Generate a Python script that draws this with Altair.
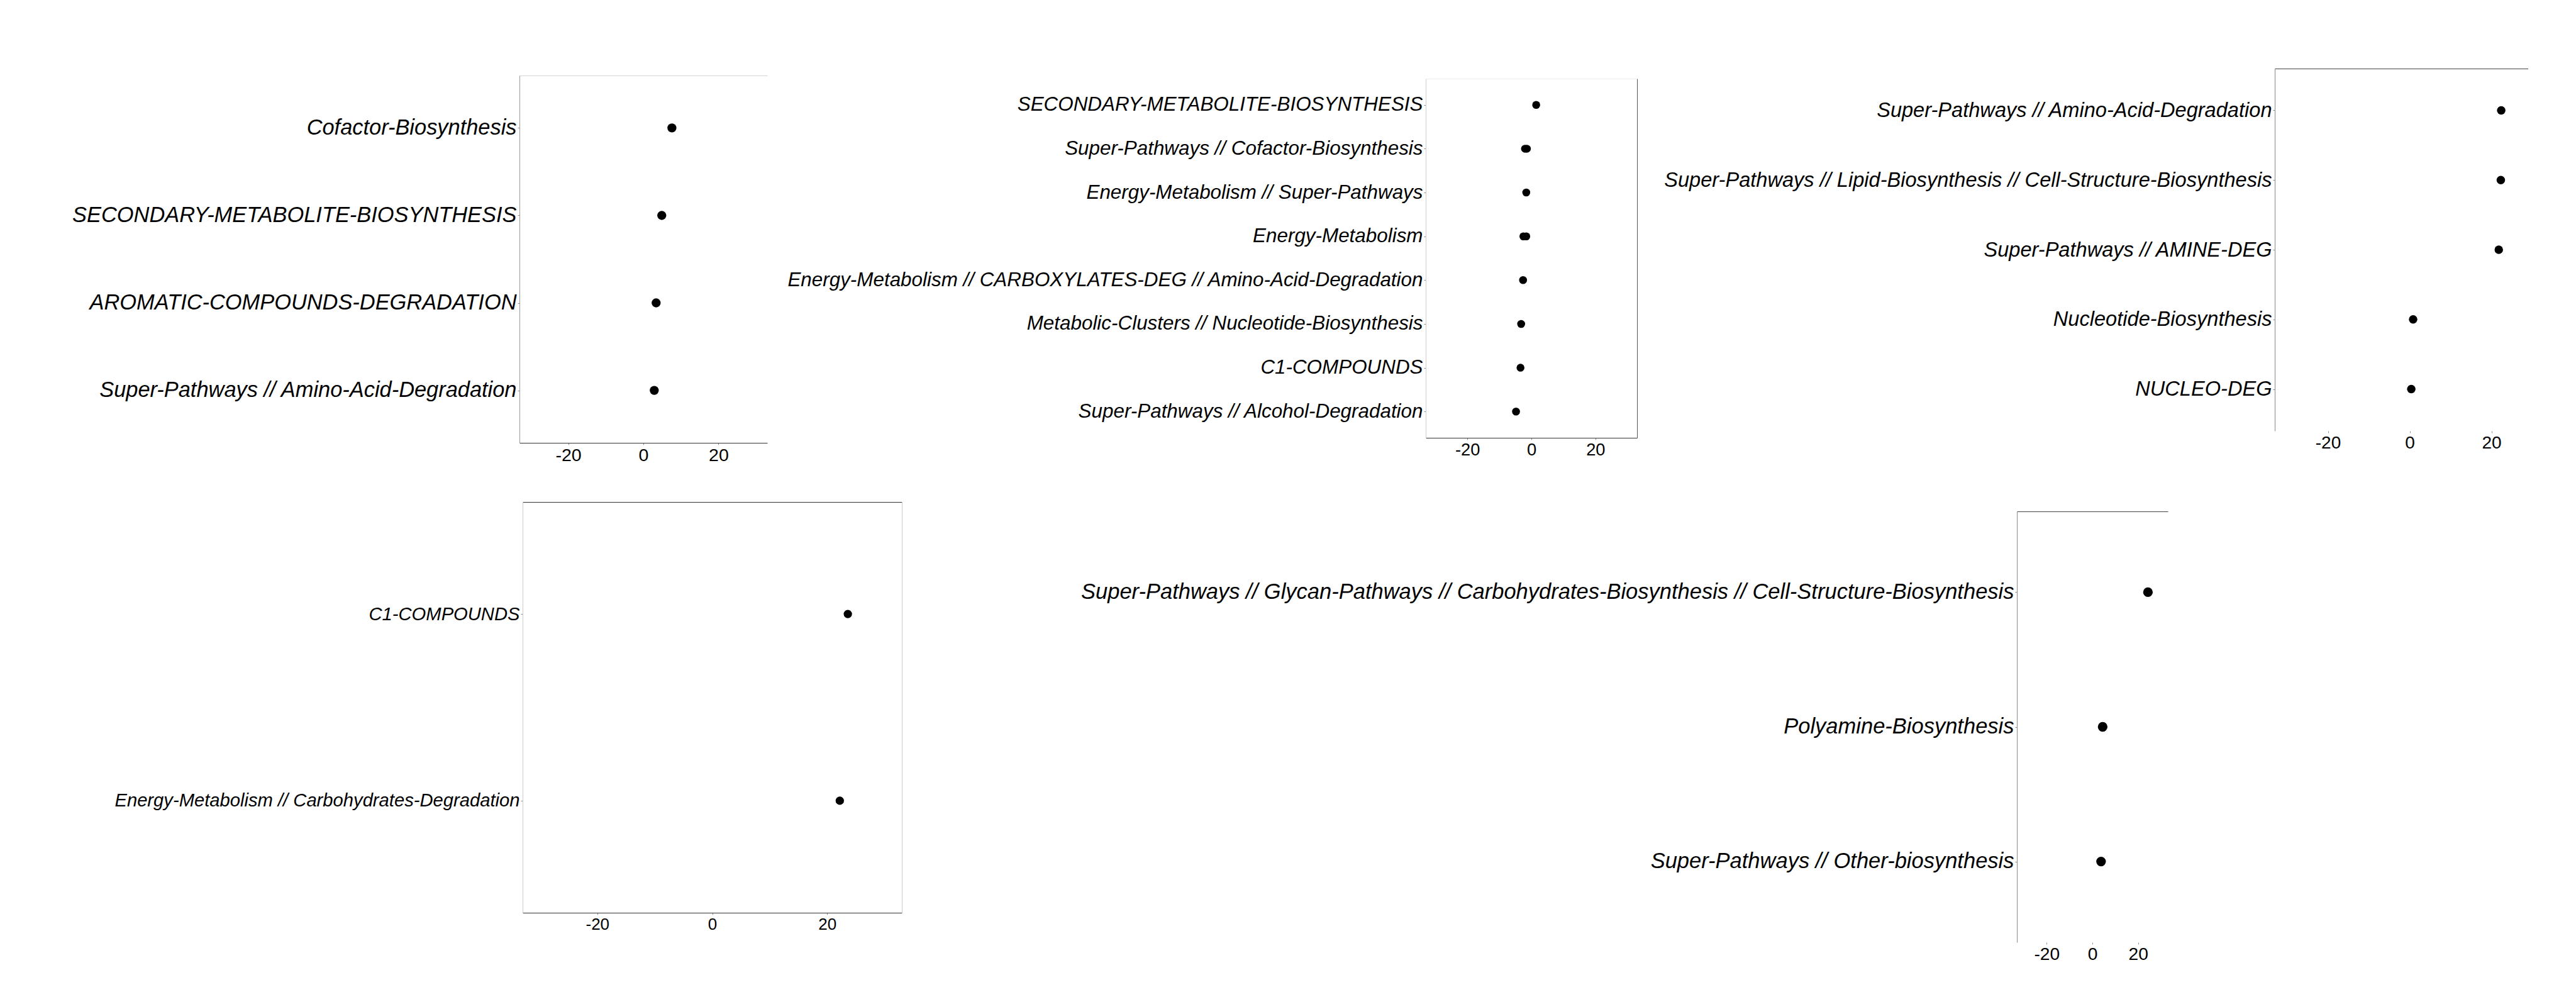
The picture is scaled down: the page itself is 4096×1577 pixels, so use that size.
import altair as alt
import pandas as pd

FONT = "Liberation Sans"

# ---------------- data ----------------
p1_cats = ["Cofactor-Biosynthesis",
           "SECONDARY-METABOLITE-BIOSYNTHESIS",
           "AROMATIC-COMPOUNDS-DEGRADATION",
           "Super-Pathways // Amino-Acid-Degradation"]
p1_vals = [7.6, 4.9, 3.4, 2.9]

p2_order = ["SECONDARY-METABOLITE-BIOSYNTHESIS",
            "Super-Pathways // Cofactor-Biosynthesis",
            "Energy-Metabolism // Super-Pathways",
            "Energy-Metabolism",
            "Energy-Metabolism // CARBOXYLATES-DEG // Amino-Acid-Degradation",
            "Metabolic-Clusters // Nucleotide-Biosynthesis",
            "C1-COMPOUNDS",
            "Super-Pathways // Alcohol-Degradation"]
p2_cats = ["SECONDARY-METABOLITE-BIOSYNTHESIS",
           "Super-Pathways // Cofactor-Biosynthesis",
           "Super-Pathways // Cofactor-Biosynthesis",
           "Energy-Metabolism // Super-Pathways",
           "Energy-Metabolism",
           "Energy-Metabolism",
           "Energy-Metabolism // CARBOXYLATES-DEG // Amino-Acid-Degradation",
           "Metabolic-Clusters // Nucleotide-Biosynthesis",
           "C1-COMPOUNDS",
           "Super-Pathways // Alcohol-Degradation"]
p2_vals = [1.5, -2.0, -1.4, -1.6, -2.5, -1.6, -2.6, -3.2, -3.4, -4.8]

p3_cats = ["Super-Pathways // Amino-Acid-Degradation",
           "Super-Pathways // Lipid-Biosynthesis // Cell-Structure-Biosynthesis",
           "Super-Pathways // AMINE-DEG",
           "Nucleotide-Biosynthesis",
           "NUCLEO-DEG"]
p3_vals = [22.4, 22.3, 21.8, 0.85, 0.4]

p4_cats = ["C1-COMPOUNDS",
           "Energy-Metabolism // Carbohydrates-Degradation"]
p4_vals = [23.6, 22.2]

p5_cats = ["Super-Pathways // Glycan-Pathways // Carbohydrates-Biosynthesis // Cell-Structure-Biosynthesis",
           "Polyamine-Biosynthesis",
           "Super-Pathways // Other-biosynthesis"]
p5_vals = [24.3, 4.5, 3.8]

tick_values = [-20, 0, 20]

MINUS_FIX = "replace(datum.label, '\u2212', '-')"


def panel(cats, vals, order, x0, w, y0, h, view_w, dom, label_size, tick_size,
          dot_size, left_color, bottom_color, top_color, right_color):
    """Dot plot whose frame sits at (x0, y0) inside a cell of view_w x (y0+h)."""
    df = pd.DataFrame({"pathway": cats, "value": vals})
    xs = alt.Scale(domain=dom, nice=False, zero=False, range=[x0, x0 + w])
    ys = alt.Scale(domain=order, padding=0.6, range=[y0, y0 + h])

    xaxis = dict(orient="bottom", values=tick_values, grid=False,
                 tickColor="#8c8c8c", tickSize=3, tickWidth=1,
                 labelFont=FONT, labelFontSize=tick_size, labelColor="black",
                 labelPadding=2, labelExpr=MINUS_FIX)
    if bottom_color:
        xaxis.update(domain=True, domainColor=bottom_color, domainWidth=1)
    else:
        xaxis.update(domain=False)

    yaxis = dict(orient="left", grid=False, domainColor=left_color,
                 domainWidth=1, tickColor="#8c8c8c", tickSize=3, tickWidth=1,
                 labelFont=FONT, labelFontSize=label_size,
                 labelFontStyle="italic", labelColor="black",
                 labelPadding=2, labelLimit=5000)
    if x0:
        yaxis.update(offset=-x0)

    base = alt.Chart(df).mark_circle(size=dot_size, color="black", opacity=1).encode(
        x=alt.X("value:Q", scale=xs, title=None, axis=alt.Axis(**xaxis)),
        y=alt.Y("pathway:N", scale=ys, title=None, axis=alt.Axis(**yaxis)),
    )

    topaxis = dict(orient="top", labels=False, ticks=False, grid=False,
                   domainColor=top_color, domainWidth=1)
    if y0:
        topaxis.update(offset=-y0)

    if right_color:
        yover = alt.Axis(orient="right", labels=False, ticks=False, grid=False,
                         domainColor=right_color, domainWidth=1)
    else:
        yover = None

    over = alt.Chart(df).mark_circle(opacity=0).encode(
        x=alt.X("value:Q", scale=xs, title=None, axis=alt.Axis(**topaxis)),
        y=alt.Y("pathway:N", scale=ys, title=None, axis=yover),
    )
    return alt.layer(base, over).resolve_axis(
        x="independent", y="independent"
    ).properties(width=view_w, height=y0 + h)


spacer_df = pd.DataFrame({"v": [0]})


def spacer(w, h):
    return alt.Chart(spacer_df).mark_point(opacity=0).encode(
        x=alt.value(0), y=alt.value(0)
    ).properties(width=w, height=h)


# top row panels
p1 = panel(p1_cats, p1_vals, p1_cats, 0, 394, 12, 584, 394, [-33, 33], 34.4, 28.5, 206,
           "#9a9a9a", "#333333", "#d4d4d4", None)
p2 = panel(p2_cats, p2_vals, p2_order, 0, 336, 17, 571, 336, [-33, 33], 31.4, 27.3, 158,
           "#cfcfcf", "#333333", "#eeeeee", "#555555")
p3 = panel(p3_cats, p3_vals, p3_cats, 0, 403, 1, 576, 403, [-33, 29], 32.6, 28, 181,
           "#8a8a8a", None, "#444444", None)
# bottom row panels
p4 = panel(p4_cats, p4_vals, p4_cats, 5, 603, 94, 653, 608, [-33, 33], 29.2, 26, 177,
           "#cccccc", "#333333", "#333333", "#cccccc")
p5 = panel(p5_cats, p5_vals, p5_cats, 940, 240, 109, 685, 1180, [-33, 33], 34.5, 28.2, 235,
           "#8a8a8a", None, "#444444", None)

cells = [
    spacer(823, 1), p1, spacer(833, 1), p2, spacer(170, 1), p3,
    spacer(823, 1), p4, spacer(833, 1), p5, spacer(170, 1), spacer(403, 1),
]

chart = alt.concat(
    *cells, columns=6, spacing=0, align="each", bounds="flush",
    padding={"left": 0, "top": 105, "right": 0, "bottom": 0},
    background="white",
).configure_view(strokeWidth=0, strokeOpacity=0)

chart.save("out.html", embed_options={"renderer": "svg", "actions": False})
